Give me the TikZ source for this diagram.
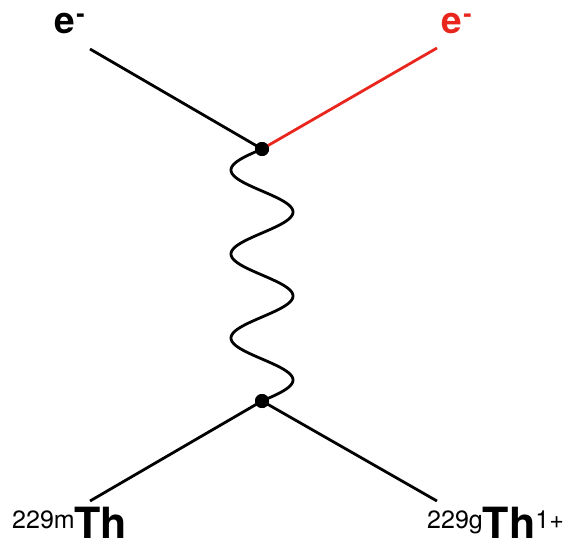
\documentclass[tikz,border=0pt]{standalone}
\usepackage{fontspec}
\setmainfont{TeX Gyre Heros}
\definecolor{eRed}{RGB}{232,38,30}
\begin{document}
\begin{tikzpicture}[x=1pt,y=-1pt,
  leg/.style={line width=2.8pt},
  vtx/.style={circle,fill=black,inner sep=0pt,minimum size=14pt},
  lbl/.style={inner sep=0pt,anchor=base west},
  bigtxt/.style={font=\fontsize{37}{37}\selectfont\bfseries}]
\useasboundingbox (0,0) rectangle (569,544);
% vertices
\node[vtx] (v1) at (262,149) {};
\node[vtx] (v2) at (262,401) {};
% free ends
\coordinate (tl) at (90,49);
\coordinate (tr) at (437,48);
\coordinate (bl) at (90,501);
\coordinate (br) at (437,501);
% legs
\draw[leg] (tl) -- (v1.center);
\draw[leg,eRed] (v1.center) -- (tr);
\draw[leg] (v2.center) -- (bl);
\draw[leg] (v2.center) -- (br);
% photon
\draw[line width=2.8pt,line join=round] plot[domain=0:1080,samples=220,smooth] ({262-31*sin(\x)},{149+0.233333*\x});
\node[vtx] at (v1) {};
\node[vtx] at (v2) {};
% labels
\node[lbl,bigtxt] (e1) at (54.5,33) {e\kern1pt\raisebox{11pt}{\fontsize{25}{25}\selectfont -}};
\node[lbl,bigtxt,text=eRed] (e2) at (441.5,33) {e\kern1pt\raisebox{11pt}{\fontsize{25}{25}\selectfont -}};
\node[lbl] (thm) at (12,538) {\raisebox{10pt}{\fontsize{25}{25}\selectfont 229m}{\fontsize{43}{43}\selectfont\bfseries Th}};
\node[lbl] (thg) at (427,538) {\raisebox{10pt}{\fontsize{25}{25}\selectfont 229g}{\fontsize{43}{43}\selectfont\bfseries Th}\raisebox{10pt}{\fontsize{25}{25}\selectfont 1+}};
\end{tikzpicture}
\end{document}
